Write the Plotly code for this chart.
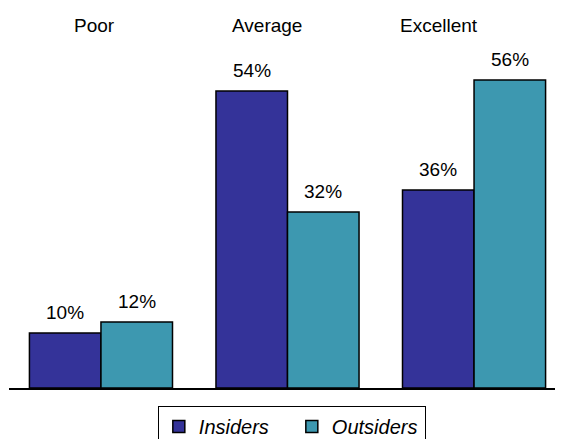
import plotly.graph_objects as go

# Rating categories and share of respondents (%) per group
categories = ["Poor", "Average", "Excellent"]
insiders = [10, 54, 36]
outsiders = [12, 32, 56]
series_names = ["Insiders", "Outsiders"]

colors = ["#343399", "#3D98B0"]
FONT = "Liberation Sans, Arial, sans-serif"
BARGAP = 0.233
half = (1 - BARGAP) / 4  # offset of each bar centre from the category centre

fig = go.Figure()
for name, vals, col in zip(series_names, [insiders, outsiders], colors):
    fig.add_trace(go.Bar(
        x=categories, y=vals, name=name,
        marker=dict(color=col, line=dict(color="black", width=1.5)),
    ))

# Value labels above each bar
annotations = []
for k, vals in enumerate([insiders, outsiders]):
    sign = -1 if k == 0 else 1
    for i, v in enumerate(vals):
        annotations.append(dict(
            x=i + sign * half, y=v, xref="x", yref="y",
            text=f"{v}%", showarrow=False, yshift=21,
            font=dict(family=FONT, size=19, color="black"),
        ))

# Category names along the top
cat_shift = [-6, -21, -35]
for i, c in enumerate(categories):
    annotations.append(dict(
        x=i, y=1, xref="x", yref="paper", yanchor="middle",
        text=c, showarrow=False, xshift=cat_shift[i], yshift=5,
        font=dict(family=FONT, size=19, color="black"),
    ))

fig.update_layout(
    width=564, height=439,
    margin=dict(l=9, r=9, t=30, b=51, autoexpand=False),
    paper_bgcolor="white", plot_bgcolor="white",
    barmode="group", bargap=BARGAP, bargroupgap=0,
    font=dict(family=FONT, size=19, color="black"),
    xaxis=dict(range=[-0.493, 2.434], showline=True, linecolor="black",
               linewidth=1.5, showticklabels=False, ticks="", showgrid=False,
               zeroline=False),
    yaxis=dict(range=[0, 65.1], visible=False, showgrid=False, zeroline=False),
    legend=dict(
        orientation="h", x=0.518, xanchor="center", y=-0.05, yanchor="top",
        bordercolor="black", borderwidth=1, bgcolor="white",
        font=dict(family=FONT, size=20, style="italic"),
        entrywidth=88, itemwidth=30,
    ),
    annotations=annotations,
    showlegend=True,
)

fig.write_html("out.html")
